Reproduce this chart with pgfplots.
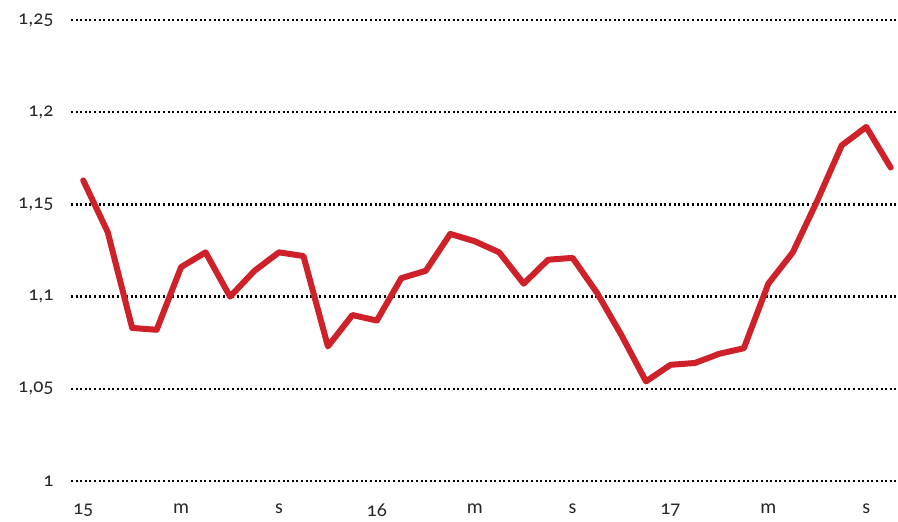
\documentclass[border=0pt]{standalone}
\usepackage{fontspec}
\setmainfont{Carlito}[Numbers=OldStyle]
\usepackage{pgfplots}
\pgfplotsset{compat=1.18}
\definecolor{linered}{RGB}{206,33,41}
\begin{document}
\begin{tikzpicture}
\begin{axis}[
    scale only axis,
    width=827bp, height=461bp,
    xmin=-0.5, xmax=33.3,
    ymin=1, ymax=1.25,
    axis line style={draw=none},
    tick style={draw=none},
    xtick={0,4,8,12,16,20,24,28,32},
    xticklabels={15,m,s,16,m,s,17,m,s},
    ytick={1,1.05,1.1,1.15,1.2,1.25},
    yticklabels={1,{1,05},{1,1},{1,15},{1,2},{1,25}},
    ymajorgrids=true,
    grid style={black, line width=2.4bp, dash pattern=on 2bp off 2.6bp},
    tick label style={font=\fontsize{20}{22}\selectfont, text=black!85},
    yticklabel style={xshift=-14bp},
    xticklabel style={yshift=-19bp},
    clip=false,
]
\addplot[linered, line width=6bp, line join=round, line cap=round] coordinates {
(0,1.163) (1,1.135) (2,1.083) (3,1.082) (4,1.116) (5,1.124) (6,1.100) (7,1.114)
(8,1.124) (9,1.122) (10,1.073) (11,1.090) (12,1.087) (13,1.110) (14,1.114)
(15,1.134) (16,1.130) (17,1.124) (18,1.107) (19,1.120) (20,1.121) (21,1.102)
(22,1.079) (23,1.054) (24,1.063) (25,1.064) (26,1.069) (27,1.072) (28,1.107)
(29,1.124) (30,1.152) (31,1.182) (32,1.192) (33,1.170)
};
\end{axis}
\pgfresetboundingbox
\path ([xshift=-71bp,yshift=-41bp]current axis.south west) rectangle ([yshift=20bp]current axis.north east);
\end{tikzpicture}
\end{document}
